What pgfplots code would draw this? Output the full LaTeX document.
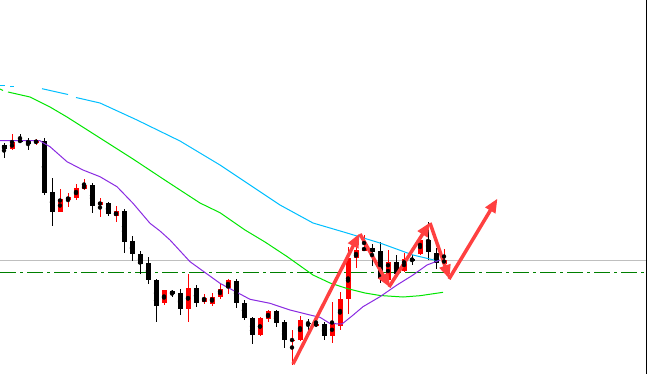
\documentclass[border=0pt]{standalone}
\usepackage{pgfplots}
\usepackage{pgfplotstable}
\pgfplotsset{compat=1.18}
\usetikzlibrary{arrows.meta}
\definecolor{mablue}{RGB}{0,191,255}
\definecolor{magreen}{RGB}{0,230,0}
\definecolor{mapurple}{RGB}{138,43,226}
\definecolor{arrowred}{RGB}{255,64,64}
\definecolor{lvlgreen}{RGB}{0,128,0}
\pgfplotstableread{
x h t b l
12 134 142 149 150
36 139 141 142.5 144.5
60 189 199 212 212
68 193 197 200 207
76 184 188 198 200
84 179 185 189 190
100 198 202 205 217
116 206 211 216 222
164 290 290 303 305
188 274 288 309 322
204 294 298 302 304
212 293 297 304 306
220 284 289 297 299
228 279 280 288 294
260 317 318 335 336
268 310 311 319 322
292 330 339.5 340.5 365
300 316 320 340 340.5
316 318 324 325.3 327
332 302 324 335.5 343
340 292 299 326 330
348 247 258 299 314
356 243 250 258 268
364 235 247.5 250.5 251
388 250 262 280 280.5
404 253 259 271 271.5
420 235 240 254 255
444 249 259.5 263.5 264
}\redcandles
\pgfplotstableread{
x h t b l
4 143 145 149 158
20 134 140 142 142.5
28 138 140 144 150
44 138 141 193 195
52 178 192 212 226
92 183 185 206 213
108 202 202.5 214 216
124 209 211 242 253
132 236 241 254 261
140 251 254 264 274
148 257 263 280 284
156 279 280 306 322
172 290 291.3 294 297
180 289 293 309 315
196 285 288 303 307
236 279 281 303 308
244 300 303 318 320
252 317 317.5 335 344
276 310 311 323 327
284 320 322 340 348
308 319 322.5 324 330.5
324 322 324 336 340
372 244 248 252 266
380 242 251 279 283
396 255 262 274 277
412 255 259 260 265
428 222 240 252 260
436 248 253 263 269
}\blackcandles
\begin{document}
\begin{tikzpicture}
\begin{axis}[
  scale only axis, width=648bp, height=374bp,
  xmin=0, xmax=648, ymin=0, ymax=374, y dir=reverse,
  axis line style={draw=none}, ticks=none,
  axis background/.style={fill=white},
  clip=true,
]
% level lines
\addplot[color=black!25, line width=1bp] coordinates {(0,260.5) (646,260.5)};
\addplot[color=lvlgreen, line width=1.5bp, dash pattern=on 16bp off 4bp on 3bp off 4bp] coordinates {(0,272.5) (646,272.5)};
% wicks
\addplot[only marks, mark=none, error bars/.cd, y dir=both, y explicit, error mark=none,
  error bar style={line width=1bp, draw=red}]
  table[x=x, y expr=(\thisrow{h}+\thisrow{l})/2, y error expr=(\thisrow{l}-\thisrow{h})/2] {\redcandles};
\addplot[only marks, mark=none, error bars/.cd, y dir=both, y explicit, error mark=none,
  error bar style={line width=1bp, draw=black}]
  table[x=x, y expr=(\thisrow{h}+\thisrow{l})/2, y error expr=(\thisrow{l}-\thisrow{h})/2] {\blackcandles};
% bodies
\addplot[only marks, mark=none, error bars/.cd, y dir=both, y explicit, error mark=none,
  error bar style={line width=5bp, draw=red}]
  table[x=x, y expr=(\thisrow{t}+\thisrow{b})/2, y error expr=(\thisrow{b}-\thisrow{t})/2] {\redcandles};
\addplot[only marks, mark=none, error bars/.cd, y dir=both, y explicit, error mark=none,
  error bar style={line width=5bp, draw=black}]
  table[x=x, y expr=(\thisrow{t}+\thisrow{b})/2, y error expr=(\thisrow{b}-\thisrow{t})/2] {\blackcandles};
% blue MA
\addplot[color=mablue, line width=1bp] coordinates {(0,85) (5,85)};
\addplot[color=mablue, line width=1bp] coordinates {(10,86) (14,86)};
\addplot[color=mablue, line width=1bp] coordinates {(42,88.7) (68,94.5)};
\addplot[color=mablue, line width=1bp] coordinates {(76,97.5) (100,103) (137,120) (180,141) (220,165) (250,185) (280,205) (313,223) (347,233) (380,243) (413,255) (438,261)};
% green MA
\addplot[color=magreen, line width=1bp] coordinates {(0,89) (3,90.5)};
\addplot[color=magreen, line width=1bp] coordinates {(8,92) (30,97) (50,107) (67,117) (100,138) (133,159) (167,181.5) (200,203) (220,212.7) (245,230) (265,242) (287,256.5) (313,275) (330,283) (347,288.5) (365,293) (380,295.5) (403,297) (420,295.7) (443,292.3)};
% purple MA
\addplot[color=mapurple, line width=1bp] coordinates {(0,140.7) (40,140.7) (43,142.7) (50,146.7) (67,161.7) (83,170) (100,176.7) (117,186.7) (133,203.3) (150,223.3) (160,231) (170,240) (190,261.7) (220,283.3) (250,299.3) (270,303.3) (290,310) (310,315) (320,317.3) (330,323.5) (342,324) (352,316) (363,306.7) (380,296.7) (397,285) (413,275) (427,265) (440,260)};
% right border
\addplot[color=black, line width=1bp] coordinates {(646.5,0) (646.5,374)};
% arrows
\addplot[color=arrowred, line width=3.5bp, -{Triangle[length=14bp,width=11bp]}] coordinates {(293,364) (359.5,233.5)};
\addplot[color=arrowred, line width=3.5bp, -{Triangle[length=14bp,width=11bp]}] coordinates {(360,234) (390,287.5)};
\addplot[color=arrowred, line width=3.5bp, -{Triangle[length=14bp,width=11bp]}] coordinates {(389,287) (430,222.5)};
\addplot[color=arrowred, line width=3.5bp, -{Triangle[length=14bp,width=11bp]}] coordinates {(430,223) (449.5,279)};
\addplot[color=arrowred, line width=3.5bp, -{Triangle[length=14bp,width=11bp]}] coordinates {(449,279) (497.5,198.5)};
\end{axis}
\end{tikzpicture}
\end{document}
